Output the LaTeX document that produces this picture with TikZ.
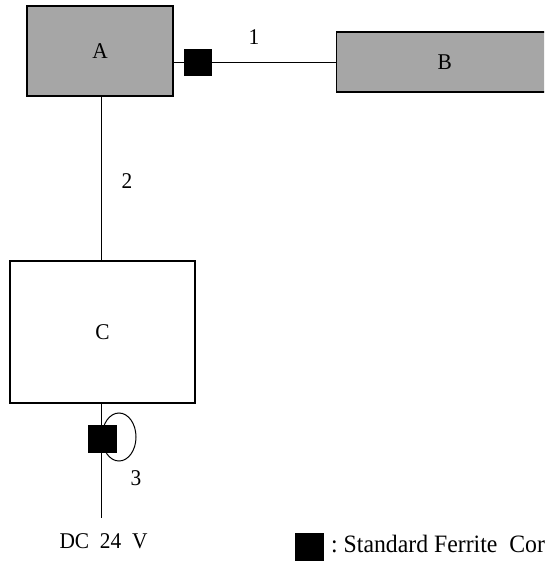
\documentclass[tikz,border=0pt]{standalone}
\usepackage{fontspec}
\setmainfont{Liberation Serif}[FakeStretch=0.95]
\usetikzlibrary{shapes.geometric}
\begin{document}
\begin{tikzpicture}[x=1pt,y=-1pt,
  box/.style={draw=black,line width=1.3pt,inner sep=0pt,font=\fontsize{22.5}{26}\selectfont},
  graybox/.style={box,fill=boxgray},
  core/.style={fill=black,draw=none,minimum width=28pt,minimum height=27pt,inner sep=0pt},
  wire/.style={line width=1pt},
  lbl/.style={font=\fontsize{22.5}{26}\selectfont,inner sep=0pt,anchor=base},
  legtext/.style={font=\fontsize{25}{28}\selectfont,inner sep=0pt,anchor=base west}]
\definecolor{boxgray}{HTML}{A6A6A6}
\clip (0,0) rectangle (544,561);
\node[graybox,minimum width=146pt,minimum height=90pt] (A) at (100,51) {A};
\node[graybox,minimum width=216pt,minimum height=60pt,anchor=west] (B) at (336,62) {B};
\node[box,minimum width=185pt,minimum height=142pt] (C) at (102.5,332) {C};
\coordinate (f1c) at (197.5,63);
\coordinate (dcend) at (101,518);
\draw[wire] (f1c -| A.east) -- (f1c -| B.west);
\node[core] (f1) at (f1c) {};
\draw[wire] (101,96) coordinate (as) -- (as |- C.north);
\draw[wire] (C.south -| dcend) -- (dcend);
\node[draw,line width=1pt,ellipse,minimum width=34pt,minimum height=48pt,inner sep=0pt] (loop) at (119,437) {};
\node[core,minimum width=29pt,minimum height=28pt] (f3) at (102.5,439) {};
\node[lbl] (l1) at (254,45) {1};
\node[lbl] (l2) at (127,189) {2};
\node[lbl] (l3) at (136,485) {3};
\node[lbl] (dc) at (103.5,548) {DC\ \ 24\ \ V};
\node[core,minimum width=29pt,minimum height=28pt] (leg) at (309.5,547) {};
\node[legtext] (legt) at (331,552) {:\ Standard\ Ferrite\ \ Core};
\end{tikzpicture}
\end{document}
